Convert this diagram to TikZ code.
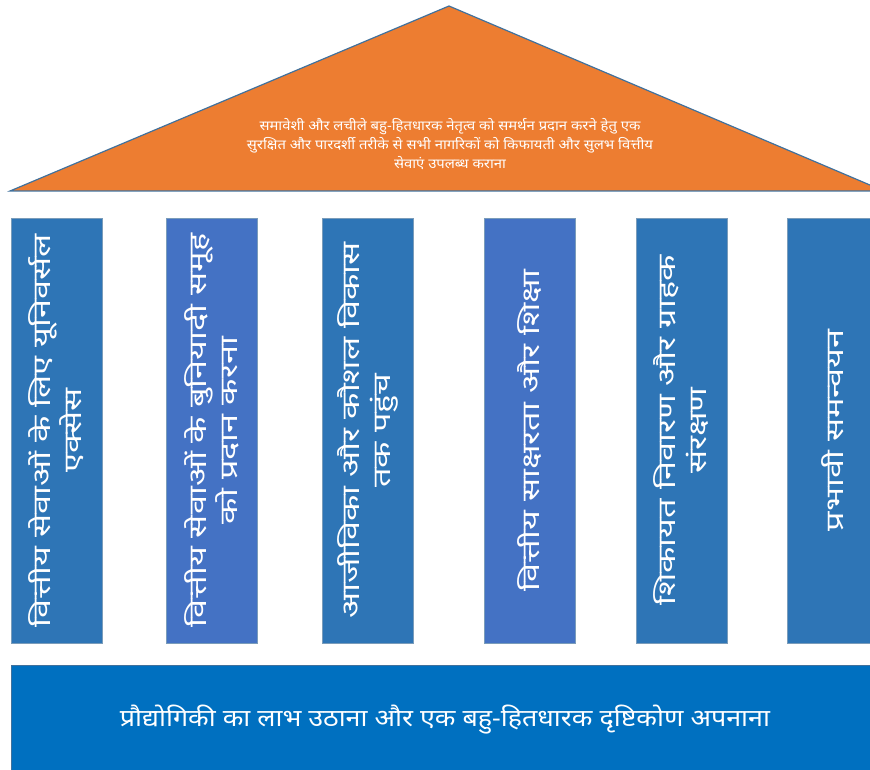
\documentclass[tikz,border=0pt]{standalone}
\usepackage{fontspec}
\newfontfamily\hindiroof[Script=Devanagari, FakeStretch=1.1]{Noto Sans}
\newfontfamily\hindipillar[Script=Devanagari, FakeStretch=1.4]{Noto Sans}
\newfontfamily\hindibase[Script=Devanagari, FakeStretch=1.12]{Noto Sans}
\definecolor{roofcol}{HTML}{ED7D31}
\definecolor{pillarA}{HTML}{2E75B6}
\definecolor{pillarB}{HTML}{4472C4}
\definecolor{basecol}{HTML}{0070C0}
\definecolor{edgecol}{HTML}{41719C}
\tikzset{
  roofshape/.style={fill=roofcol, draw=edgecol, line width=1.2pt, line join=miter},
  rooftext/.style={text=white, align=center, font=\hindiroof\fontsize{13.5}{19}\selectfont},
  pillar/.style={draw=edgecol!70, line width=0.6pt, rotate=90,
    minimum width=425, minimum height=91, inner sep=0pt,
    text=white, align=center, font=\hindipillar\fontsize{24.5}{31}\selectfont},
  basebox/.style={fill=basecol, draw=edgecol, line width=0.8pt,
    minimum width=868, minimum height=110, inner sep=0pt,
    text=white, font=\hindibase\fontsize{24}{28}\selectfont}
}
\begin{document}
\begin{tikzpicture}[x=1pt,y=-1pt]
\useasboundingbox (0,0) rectangle (870,770);
\clip (0,0) rectangle (870,770);
% roof
\coordinate (roofL) at (10,191);
\coordinate (roofT) at (449,6);
\coordinate (roofR) at (884,191);
\draw[roofshape] (roofL) -- (roofT) -- (roofR) -- cycle;
\node[rooftext] (rooftxt) at (450,144) {समावेशी और लचीले बहु-हितधारक नेतृत्व को समर्थन प्रदान करने हेतु एक\\
सुरक्षित और पारदर्शी तरीके से सभी नागरिकों को किफायती और सुलभ वित्तीय\\
सेवाएं उपलब्ध कराना};
% pillars
\node[pillar, fill=pillarA] (p1) at (56.5,430.5) {वित्तीय सेवाओं के लिए यूनिवर्सल\\ एक्सेस};
\node[pillar, fill=pillarB] (p2) at (211.5,430.5) {वित्तीय सेवाओं के बुनियादी समूह\\ को प्रदान करना};
\node[pillar, fill=pillarA] (p3) at (367.5,430.5) {आजीविका और कौशल विकास\\ तक पहुंच};
\node[pillar, fill=pillarB] (p4) at (529.5,430.5) {वित्तीय साक्षरता और शिक्षा};
\node[pillar, fill=pillarA] (p5) at (681.5,430.5) {शिकायत निवारण और ग्राहक\\ संरक्षण};
\node[pillar, fill=pillarA] (p6) at (832.5,430.5) {प्रभावी समन्वयन};
% base
\node[basebox] (base) at (445,720) {प्रौद्योगिकी का लाभ उठाना और एक बहु-हितधारक दृष्टिकोण अपनाना};
\end{tikzpicture}
\end{document}
